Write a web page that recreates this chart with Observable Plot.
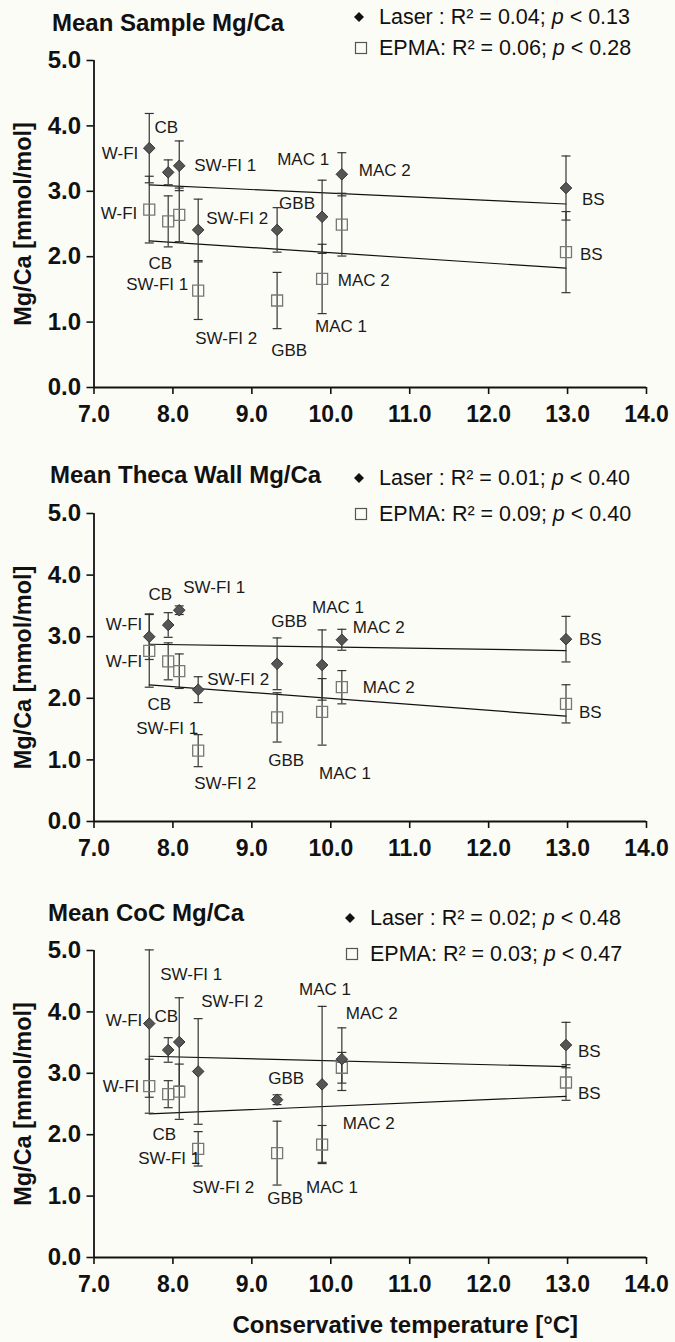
<!DOCTYPE html>
<html>
<head>
<meta charset="utf-8">
<script src="https://cdn.jsdelivr.net/npm/d3@7"></script>
<script src="https://cdn.jsdelivr.net/npm/@observablehq/plot@0.6"></script>
<style>
  html, body { margin: 0; padding: 0; background: #fcfcf7; }
  #chart { width: 675px; }
  .panel { position: relative; width: 675px; }
  .panel svg { display: block; }
  .ptitle { position: absolute; font: bold 24px "Liberation Sans", Arial, sans-serif; line-height: 24px; color: #111; white-space: nowrap; }
  .leg { position: absolute; font: 21.5px "Liberation Sans", Arial, sans-serif; line-height: 22px; color: #111; white-space: nowrap; }
  .leg svg { position: absolute; display: block; }
</style>
</head>
<body>
<div id="chart"></div>
<script>
// Sampling sites and their conservative temperature (°C)
const sites = ["W-FI", "CB", "SW-FI 1", "SW-FI 2", "GBB", "MAC 1", "MAC 2", "BS"];
const temperature = [7.70, 7.94, 8.08, 8.32, 9.32, 9.89, 10.14, 12.98];

// Mean sample Mg/Ca (mmol/mol) with error bar half-widths
const sampleLaser    = [3.66, 3.29, 3.39, 2.41, 2.41, 2.61, 3.26, 3.05];
const sampleLaserErr = [0.53, 0.19, 0.38, 0.47, 0.34, 0.56, 0.33, 0.49];
const sampleEpma     = [2.72, 2.54, 2.64, 1.48, 1.33, 1.66, 2.49, 2.07];
const sampleEpmaErr  = [0.51, 0.39, 0.41, 0.44, 0.43, 0.53, 0.48, 0.62];

// Mean theca wall Mg/Ca
const thecaLaser    = [3.00, 3.19, 3.43, 2.14, 2.56, 2.54, 2.95, 2.96];
const thecaLaserErr = [0.37, 0.20, 0.07, 0.21, 0.42, 0.57, 0.17, 0.37];
const thecaEpma     = [2.77, 2.60, 2.44, 1.15, 1.69, 1.78, 2.18, 1.91];
const thecaEpmaErr  = [0.59, 0.30, 0.28, 0.26, 0.40, 0.54, 0.27, 0.31];

// Mean centre-of-chamber (CoC) Mg/Ca
const cocLaser    = [3.81, 3.38, 3.51, 3.03, 2.57, 2.82, 3.23, 3.46];
const cocLaserErr = [1.20, 0.20, 0.72, 0.86, 0.08, 1.27, 0.51, 0.37];
const cocEpma     = [2.79, 2.66, 2.70, 1.77, 1.70, 1.84, 3.09, 2.85];
const cocEpmaErr  = [0.44, 0.22, 0.45, 0.28, 0.52, 0.31, 0.25, 0.29];

// Regression statistics shown in each legend
const laserR2 = ["0.04", "0.01", "0.02"];
const laserP  = ["0.13", "0.40", "0.48"];
const epmaR2  = ["0.06", "0.09", "0.03"];
const epmaP   = ["0.28", "0.40", "0.47"];

const panelTitles = ["Mean Sample Mg/Ca", "Mean Theca Wall Mg/Ca", "Mean CoC Mg/Ca"];
const xTicks = [7, 8, 9, 10, 11, 12, 13, 14];
const yTicks = [0, 1, 2, 3, 4, 5];

// Site label placement: [text anchor, dx, dy] in pixels, one per site
const labelPlacement = [
  {
    laser: [["end",-11,5],["middle",-2,-45],["start",15,0],["start",8,-11],["start",2,-26],["end",7,-57],["start",17,-4],["start",16,12]],
    epma:  [["end",-12,4],["middle",-8,42],["middle",-22,70],["middle",28,48],["middle",12,50],["middle",19,48],["start",-4,56],["start",14,2]]
  },
  {
    laser: [["end",-7,-12],["middle",-8,-30],["start",4,-23],["start",9,-10],["middle",12,-42],["middle",16,-57],["start",11,-12],["start",13,0]],
    epma:  [["end",-7,11],["middle",-9,43],["middle",-12,57],["middle",27,33],["middle",9,43],["middle",23,62],["start",21,0],["start",13,9]]
  },
  {
    laser: [["end",-7,-3],["middle",-2,-33],["middle",12,-67],["start",3,-70],["middle",9,-21],["middle",3,-95],["start",4,-46],["start",12,6]],
    epma:  [["end",-10,0],["middle",-4,40],["middle",-10,67],["middle",25,39],["middle",8,45],["start",-16,43],["start",1,56],["start",12,11]]
  }
];

// Page layout of the three stacked panels
const layout = [
  {height: 450, marginTop: 60, marginBottom: 63, titleX: 52, titleY: 23, legX: 379, legY: [17, 48]},
  {height: 440, marginTop: 63, marginBottom: 69, titleX: 50, titleY: 475 - 450, legX: 379, legY: [478 - 450, 514 - 450]},
  {height: 452, marginTop: 60, marginBottom: 85, titleX: 48, titleY: 913 - 890, legX: 370, legY: [918 - 890, 954 - 890]}
];

const series = [
  [sampleLaser, sampleLaserErr, sampleEpma, sampleEpmaErr],
  [thecaLaser, thecaLaserErr, thecaEpma, thecaEpmaErr],
  [cocLaser, cocLaserErr, cocEpma, cocEpmaErr]
];

// Horizontal error-bar cap drawn as a dot symbol
const capSymbol = {
  draw(context, size) {
    const w = Math.sqrt(size / Math.PI);
    context.moveTo(-w, 0);
    context.lineTo(w, 0);
  }
};

const font = '"Liberation Sans", Arial, sans-serif';
const root = document.getElementById("chart");

series.forEach(([laser, laserErr, epma, epmaErr], i) => {
  const L = layout[i];
  const rows = sites.map((s, j) => ({
    site: s, t: temperature[j],
    laser: laser[j], laserErr: laserErr[j],
    epma: epma[j], epmaErr: epmaErr[j]
  }));

  const labelMarks = [];
  rows.forEach((d, j) => {
    const [la, ldx, ldy] = labelPlacement[i].laser[j];
    const [ea, edx, edy] = labelPlacement[i].epma[j];
    labelMarks.push(Plot.text([d], {x: "t", y: "laser", text: "site", textAnchor: la, dx: ldx, dy: ldy,
      fontSize: 17, fontWeight: "normal", fill: "#1a1a1a"}));
    labelMarks.push(Plot.text([d], {x: "t", y: "epma", text: "site", textAnchor: ea, dx: edx, dy: edy,
      fontSize: 17, fontWeight: "normal", fill: "#1a1a1a"}));
  });

  const errStyle = {stroke: "#333", strokeWidth: 1.2};

  const svg = Plot.plot({
    width: 675,
    height: L.height,
    marginLeft: 93.5,
    marginRight: 29,
    marginTop: L.marginTop,
    marginBottom: L.marginBottom,
    style: {background: "transparent", fontFamily: font, color: "#111", overflow: "visible"},
    x: {domain: [7, 14], ticks: xTicks},
    y: {domain: [0, 5], ticks: yTicks},
    marks: [
      // axes
      Plot.axisX({ticks: xTicks, tickFormat: d3.format(".1f"), tickSize: 7, tickPadding: 11,
        fontSize: 23, fontWeight: "bold", label: null, strokeWidth: 1.6}),
      Plot.axisY({ticks: yTicks, tickFormat: d3.format(".1f"), tickSize: 7, tickPadding: 6,
        fontSize: 24, fontWeight: "bold", label: null, strokeWidth: 1.6}),
      Plot.ruleY([0], {stroke: "#111", strokeWidth: 1.8}),
      Plot.ruleX([7], {y1: 0, y2: 5, stroke: "#111", strokeWidth: 1.8}),
      Plot.text(["Mg/Ca [mmol/mol]"], {frameAnchor: "left", rotate: -90, dx: -71, textAnchor: "middle",
        fontSize: 23.5, fontWeight: "bold", fill: "#111"}),
      ...(i === 2 ? [Plot.text(["Conservative temperature [°C]"], {frameAnchor: "bottom", dy: 75, dx: 35,
        textAnchor: "middle", fontSize: 24, fontWeight: "bold", fill: "#111"})] : []),

      // regression lines
      Plot.linearRegressionY(rows, {x: "t", y: "laser", ci: 0, stroke: "#111", strokeWidth: 1.2}),
      Plot.linearRegressionY(rows, {x: "t", y: "epma", ci: 0, stroke: "#111", strokeWidth: 1.2}),

      // error bars
      Plot.ruleX(rows, {x: "t", y1: d => d.epma - d.epmaErr, y2: d => d.epma + d.epmaErr, ...errStyle}),
      Plot.dot(rows, {x: "t", y: d => d.epma - d.epmaErr, symbol: capSymbol, r: 4.5, ...errStyle}),
      Plot.dot(rows, {x: "t", y: d => d.epma + d.epmaErr, symbol: capSymbol, r: 4.5, ...errStyle}),
      Plot.ruleX(rows, {x: "t", y1: d => d.laser - d.laserErr, y2: d => d.laser + d.laserErr, ...errStyle}),
      Plot.dot(rows, {x: "t", y: d => d.laser - d.laserErr, symbol: capSymbol, r: 4.5, ...errStyle}),
      Plot.dot(rows, {x: "t", y: d => d.laser + d.laserErr, symbol: capSymbol, r: 4.5, ...errStyle}),

      // markers
      Plot.dot(rows, {x: "t", y: "epma", symbol: "square", r: 6.2, fill: "none", stroke: "#777", strokeWidth: 1.3}),
      Plot.dot(rows, {x: "t", y: "laser", symbol: "diamond2", r: 5.2, fill: "#555", stroke: "#333", strokeWidth: 1}),

      ...labelMarks
    ]
  });

  const div = document.createElement("div");
  div.className = "panel";
  div.style.height = L.height + "px";
  div.appendChild(svg);

  const title = document.createElement("div");
  title.className = "ptitle";
  title.textContent = panelTitles[i];
  title.style.left = L.titleX + "px";
  title.style.top = (L.titleY - 12) + "px";
  div.appendChild(title);

  const leg1 = document.createElement("div");
  leg1.className = "leg";
  leg1.style.left = L.legX + "px";
  leg1.style.top = (L.legY[0] - 11) + "px";
  leg1.innerHTML = `<svg width="12" height="12" style="left:-26px;top:5px"><path d="M6 1L11 6L6 11L1 6Z" fill="#111"/></svg>` +
    `Laser : R² = ${laserR2[i]}; <i>p</i> &lt; ${laserP[i]}`;
  div.appendChild(leg1);

  const leg2 = document.createElement("div");
  leg2.className = "leg";
  leg2.style.left = L.legX + "px";
  leg2.style.top = (L.legY[1] - 11) + "px";
  leg2.innerHTML = `<svg width="14" height="14" style="left:-25px;top:4px"><rect x="1.5" y="1.5" width="11" height="11" fill="none" stroke="#555" stroke-width="1.2"/></svg>` +
    `EPMA: R² = ${epmaR2[i]}; <i>p</i> &lt; ${epmaP[i]}`;
  div.appendChild(leg2);

  root.appendChild(div);
});
</script>
</body>
</html>
